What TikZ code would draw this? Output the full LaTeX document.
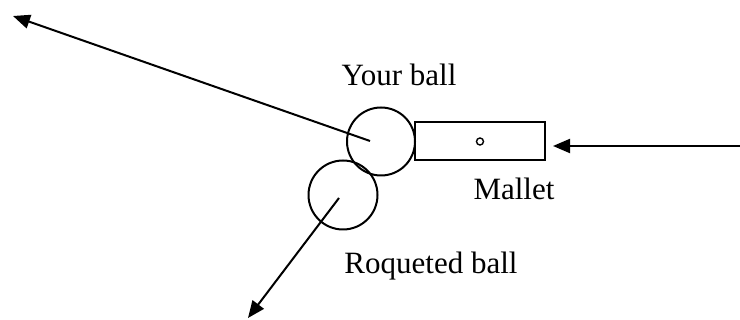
\documentclass[tikz,border=0pt]{standalone}
\usepackage{fontspec}
\setmainfont{Liberation Serif}
\usetikzlibrary{arrows.meta}
\begin{document}
\begin{tikzpicture}[x=1pt,y=-1pt,
  ln/.style={line width=2pt},
  arr/.style={ln,-{Triangle[length=17pt,width=14pt]}},
  lbl/.style={font=\fontsize{31}{36}\selectfont}]
\useasboundingbox (0,0) rectangle (740,320);
\node[ln,draw,circle,minimum size=68pt,inner sep=0pt] (your) at (381,141.5) {};
\node[ln,draw,circle,minimum size=69pt,inner sep=0pt] (roq) at (343,195) {};
\node[ln,draw,rectangle,minimum width=130pt,minimum height=38pt,inner sep=0pt] (mallet) at (480,141.5) {};
\node[line width=1.4pt,draw,circle,minimum size=7pt,inner sep=0pt] (dot) at (480,141.5) {};
\coordinate (yourc) at (370,141);
\coordinate (yourtip) at (13,16);
\coordinate (roqc) at (339,198);
\coordinate (roqtip) at (248,318);
\coordinate (mstart) at (740,146);
\coordinate (mtip) at (553,146);
\draw[arr] (yourc) -- (yourtip);
\draw[arr] (roqc) -- (roqtip);
\draw[arr] (mstart) -- (mtip);
\node[lbl] (ylbl) at (399,75) {Your ball};
\node[lbl] (mlbl) at (514,189) {Mallet};
\node[lbl] (rlbl) at (431,266) {Roqueted ball};
\end{tikzpicture}
\end{document}
